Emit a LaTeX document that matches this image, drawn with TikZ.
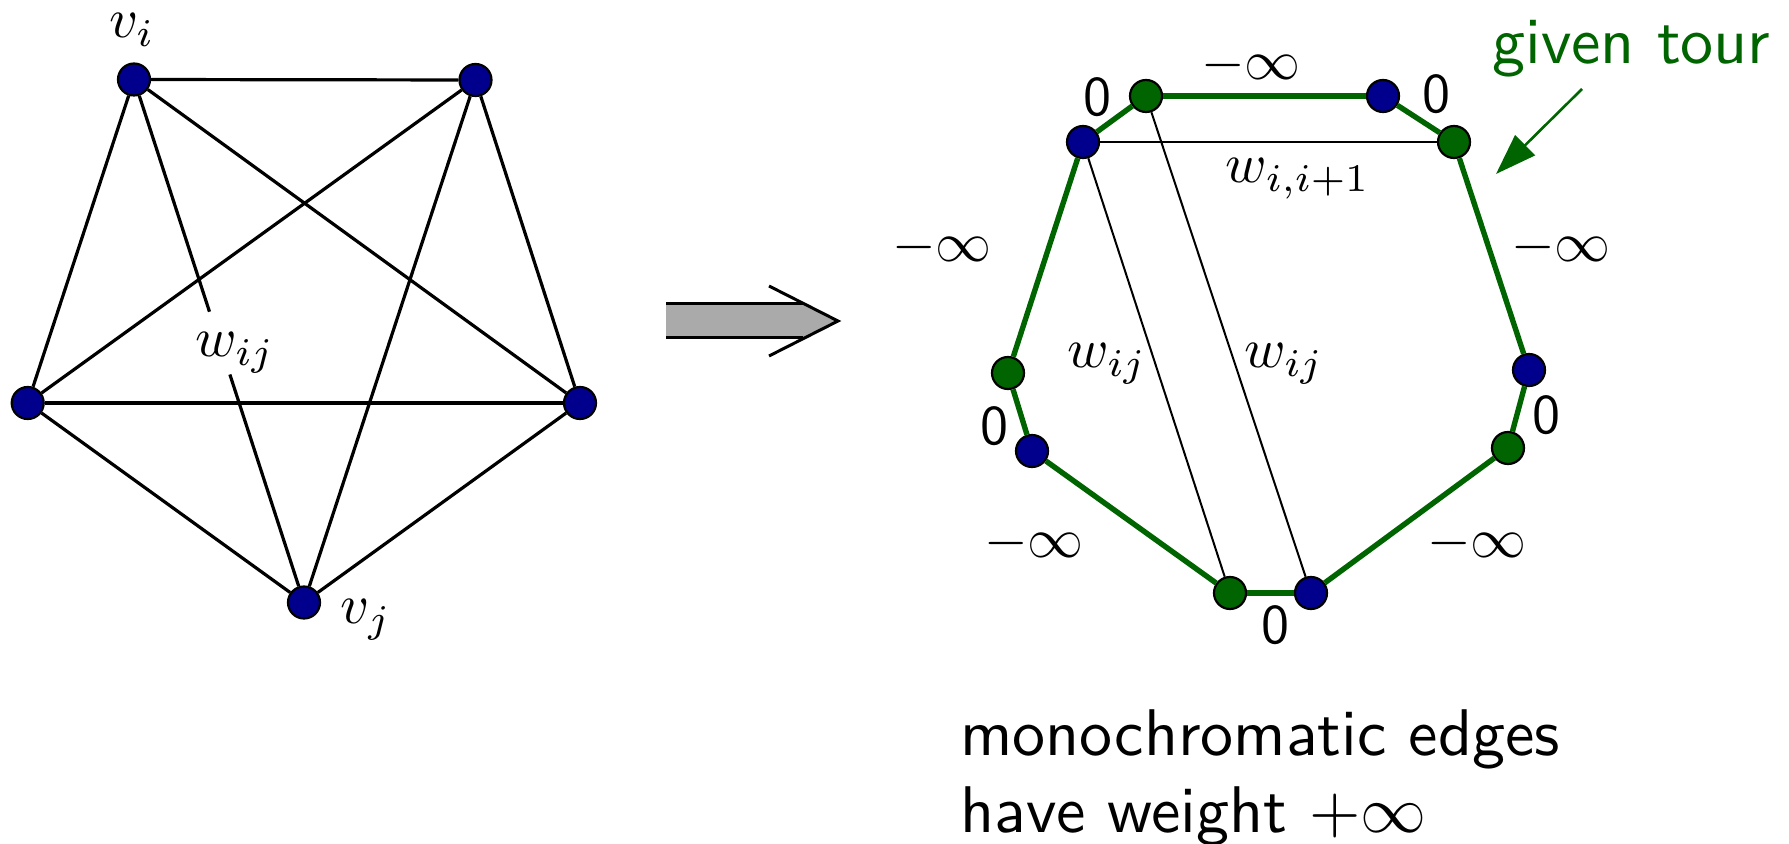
\documentclass[tikz,border=0pt]{standalone}
\usetikzlibrary{calc,arrows.meta}
\definecolor{nodeblue}{RGB}{0,0,140}
\definecolor{tourgreen}{RGB}{0,100,0}
\definecolor{arrowgray}{RGB}{170,170,170}
\newcommand{\mlab}[1]{\scalebox{2.8}{$#1$}}
\newcommand{\zlab}[1]{\scalebox{2.8}{\sffamily #1}}
\newcommand{\tlab}[2]{\scalebox{#1}{\sffamily #2}}
\tikzset{
  vb/.style={circle,draw=black,line width=1.1pt,fill=nodeblue,minimum size=16pt,inner sep=0pt},
  vg/.style={vb,fill=tourgreen},
  edgeL/.style={line width=1.6pt},
  edgeR/.style={line width=1pt},
  tour/.style={line width=2.7pt,draw=tourgreen},
  lbl/.style={inner sep=0pt,anchor=base},
  txt/.style={inner sep=0pt,anchor=base west},
  bigarrow/.style={line width=1.5pt},
}
\begin{document}
\begin{tikzpicture}[x=0.5pt,y=-0.5pt]
\useasboundingbox (0,0) rectangle (1789,844);
% ---------- left graph ----------
\node[vb] (vi) at (134,79.5) {};
\node[vb] (tr) at (475.5,80) {};
\node[vb] (lf) at (27.7,403) {};
\node[vb] (rt) at (580,403) {};
\node[vb] (vj) at (304,602.5) {};
\node[inner sep=0pt,minimum height=31pt,minimum width=14pt] (gap) at ($(vi)!0.504!(vj)$) {};
\draw[edgeL] (vi) -- (tr);
\draw[edgeL] (vi) -- (lf);
\draw[edgeL] (vi) -- (rt);
\draw[edgeL] (vi) -- (gap);
\draw[edgeL] (gap) -- (vj);
\draw[edgeL] (tr) -- (lf);
\draw[edgeL] (tr) -- (rt);
\draw[edgeL] (tr) -- (vj);
\draw[edgeL] (lf) -- (rt);
\draw[edgeL] (lf) -- (vj);
\draw[edgeL] (rt) -- (vj);
\node[lbl] (lvi) at (132,38) {\mlab{v_i}};
\node[lbl] (lvj) at (366,624) {\mlab{v_j}};
\node[lbl] (lwij) at (235,357) {\mlab{w_{ij}}};
% ---------- middle arrow ----------
\fill[arrowgray] (666,304) -- (803,304) -- (838,321) -- (803,338) -- (666,338) -- cycle;
\draw[bigarrow] (666,304) -- (803,304);
\draw[bigarrow] (666,338) -- (803,338);
\draw[bigarrow,line join=miter] (769,286) -- (838,321) -- (769,356);
% ---------- right graph ----------
\node[vg] (gTL) at (1146,96) {};
\node[vb] (bTR) at (1383,96) {};
\node[vb] (bUL) at (1083,142) {};
\node[vg] (gUR) at (1454,142) {};
\node[vg] (gL) at (1008,373) {};
\node[vb] (bR) at (1529,370) {};
\node[vb] (bLL) at (1032,451) {};
\node[vg] (gLR) at (1508,448) {};
\node[vg] (gB) at (1230,593) {};
\node[vb] (bB) at (1311,593) {};
\draw[tour] (gTL) -- (bTR);
\draw[tour] (bTR) -- (gUR);
\draw[tour] (gUR) -- (bR);
\draw[tour] (bR) -- (gLR);
\draw[tour] (gLR) -- (bB);
\draw[tour] (bB) -- (gB);
\draw[tour] (gB) -- (bLL);
\draw[tour] (bLL) -- (gL);
\draw[tour] (gL) -- (bUL);
\draw[tour] (bUL) -- (gTL);
\draw[edgeR] (bUL) -- (gUR);
\draw[edgeR] (bUL) -- (gB);
\draw[edgeR] (gTL) -- (bB);
% labels
\node[lbl] (m1) at (1251,80) {\mlab{-\infty}};
\node[lbl] (z1) at (1097,116) {\zlab{0}};
\node[lbl] (z2) at (1436,113) {\zlab{0}};
\node[lbl] (wii) at (1298,183) {\mlab{w_{i,i+1}}};
\node[lbl] (m2) at (942,262) {\mlab{-\infty}};
\node[lbl] (m3) at (1561,262) {\mlab{-\infty}};
\node[lbl] (w1) at (1107,368) {\mlab{w_{ij}}};
\node[lbl] (w2) at (1284,368) {\mlab{w_{ij}}};
\node[lbl] (z3) at (994,445) {\zlab{0}};
\node[lbl] (z4) at (1546,434) {\zlab{0}};
\node[lbl] (m4) at (1034,558) {\mlab{-\infty}};
\node[lbl] (m5) at (1477,558) {\mlab{-\infty}};
\node[lbl] (z5) at (1275,643) {\zlab{0}};
% given tour
\node[txt,text=tourgreen] (gt) at (1492,64) {\tlab{3.3}{given tour}};
\coordinate (gts) at (1582,89);
\coordinate (gte) at (1496,174);
\draw[tourgreen,line width=1.3pt,-{Triangle[length=20.5pt,width=14pt]}] (gts) -- (gte);
% bottom text
\node[txt] (t1) at (960,755) {\tlab{3.3}{monochromatic edges}};
\node[txt] (t2) at (960,832) {\tlab{3.3}{have weight $+\infty$}};
\end{tikzpicture}
\end{document}
